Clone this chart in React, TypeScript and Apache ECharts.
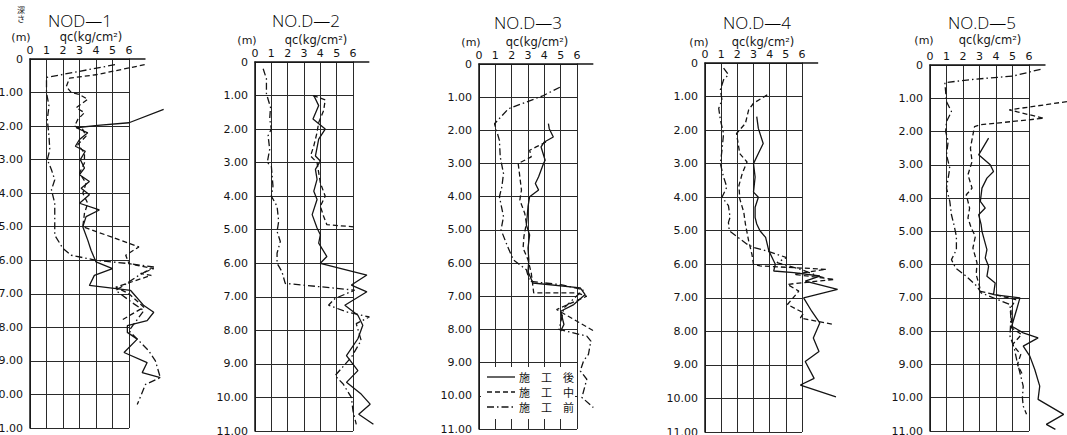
import React, { useEffect, useRef } from "react";
import * as echarts from "echarts";

// ---------- data ----------
const titles = ["NOD—1", "NO.D—2", "NO.D—3", "NO.D—4", "NO.D—5"];
const seriesNames = ["施　工　後", "施　工　中", "施　工　前"]; // after / during / before
const depthUnit = "(m)";
const qcUnit = "qc(kg/cm²)";
const depthHeading = "深\nさ";

// [qc (kg/cm2), depth (m)]
const p1After = [[8.1,1.5],[6.0,1.9],[4.1,1.98],[2.8,2.05],[3.5,2.2],[3.0,2.4],[2.75,2.6],[3.35,2.75],[3.05,3.0],[3.3,3.25],[3.0,3.45],[3.6,3.65],[3.1,3.85],[3.6,4.05],[3.0,4.3],[4.2,4.5],[3.4,4.7],[3.2,5.0],[3.5,5.4],[3.7,5.7],[4.0,6.05],[5.0,6.25],[3.9,6.45],[3.6,6.75],[6.1,6.9],[6.9,7.35],[7.5,7.55],[7.1,7.8],[5.9,7.95],[5.9,8.15],[6.5,8.35],[5.7,8.75],[7.1,9.05],[6.8,9.35],[7.9,9.5]];
const p1During = [[6.95,0.17],[4.0,0.47],[2.4,0.57],[2.2,0.82],[2.5,1.0],[3.0,1.06],[3.5,1.2],[2.8,1.45],[3.3,1.6],[2.9,1.8],[2.7,2.0],[3.2,2.1],[3.4,2.3],[2.9,2.55],[3.3,2.8],[3.3,3.1],[3.0,3.4],[3.4,3.7],[3.2,4.0],[3.5,4.3],[3.3,4.6],[3.2,5.0],[6.6,5.6],[5.8,5.85],[6.0,6.1],[7.5,6.25],[6.7,6.4],[7.35,6.45],[5.2,6.8],[6.0,7.0],[6.9,7.4],[5.5,7.8]];
const p1Before = [[5.15,0.17],[1.0,0.55],[1.0,1.0],[1.15,1.4],[1.05,1.8],[1.15,2.3],[1.2,2.7],[1.05,3.0],[1.3,3.3],[1.5,3.6],[1.3,3.9],[1.5,4.3],[1.5,5.25],[2.0,5.65],[2.5,5.85],[4.0,6.0],[6.0,6.1],[7.5,6.2],[6.6,6.45],[5.2,6.9],[6.3,7.3],[6.9,7.5],[6.0,8.1],[6.6,8.4],[7.2,8.7],[7.6,9.0],[7.9,9.5],[7.0,9.7],[6.5,10.3]];

const p2After = [[3.6,1.0],[3.9,1.3],[3.55,1.7],[4.3,2.0],[3.9,2.3],[3.7,2.8],[4.0,2.95],[3.7,3.2],[3.8,3.5],[3.6,3.85],[3.8,4.1],[3.5,4.55],[3.8,4.95],[4.0,5.15],[3.9,5.4],[4.4,5.8],[4.0,6.0],[6.85,6.35],[5.9,6.65],[6.85,6.85],[5.5,7.25],[6.3,7.55],[6.6,7.85],[6.3,8.25],[5.6,8.75],[6.3,9.2],[5.6,9.55],[6.5,9.9],[7.05,10.2],[6.35,10.5],[7.25,10.8]];
const p2During = [[3.55,1.0],[4.3,1.13],[4.2,1.45],[3.9,1.8],[3.8,2.1],[3.6,2.5],[3.4,2.8],[3.8,3.0],[3.9,3.3],[4.0,3.6],[4.3,4.0],[4.0,4.3],[4.2,4.6],[4.4,4.85],[6.2,4.92]];
const p2Before = [[0.5,0.2],[0.7,0.5],[0.7,0.95],[0.95,1.35],[0.9,1.7],[1.0,2.0],[0.8,2.2],[0.9,2.6],[0.75,3.0],[1.0,3.1],[1.1,3.7],[1.0,4.0],[1.35,4.3],[1.45,4.75],[1.35,5.05],[1.55,5.35],[1.35,5.7],[1.35,6.0],[1.65,6.25],[1.85,6.6],[4.0,6.7],[6.1,6.8],[4.9,7.05],[4.5,7.25],[5.6,7.45],[7.0,7.6],[6.2,7.8],[6.5,8.3],[5.9,8.8],[4.9,9.35],[5.4,9.6],[5.9,10.0],[6.0,10.4],[6.2,10.8]];

const p3After = [[4.25,1.8],[4.3,1.95],[4.55,2.2],[4.0,2.35],[3.8,2.5],[4.05,2.9],[3.95,3.0],[3.65,3.4],[3.45,3.6],[3.65,3.8],[3.1,4.0],[3.0,4.3],[2.95,4.6],[2.9,4.85],[3.1,5.15],[3.0,5.55],[3.05,5.9],[3.0,6.25],[3.3,6.6],[6.2,6.75],[6.5,6.95],[5.8,7.25],[5.0,7.45],[5.2,7.85],[5.0,8.05]];
const p3During = [[4.1,2.35],[3.5,2.5],[3.1,2.6],[3.2,2.8],[2.4,3.0],[2.5,3.4],[2.6,3.8],[2.5,4.1],[2.8,4.5],[2.9,4.8],[2.75,5.2],[2.7,5.55],[3.0,5.9],[3.2,6.3],[3.35,6.9],[6.0,6.9],[6.6,7.0],[5.2,7.3],[4.75,7.4],[7.05,8.05]];
const p3Before = [[4.95,0.7],[3.95,0.95],[1.8,1.35],[0.95,1.8],[1.25,2.3],[1.3,2.8],[1.5,3.3],[1.4,3.7],[1.25,4.0],[1.5,4.6],[1.35,5.0],[1.75,5.5],[2.1,5.9],[2.9,6.2],[3.1,6.55],[5.0,6.65],[6.4,6.8],[5.2,7.35],[4.9,8.0],[6.6,8.2],[6.85,8.35],[6.7,8.75],[6.4,8.95],[6.2,9.25],[6.6,9.5],[6.3,10.05],[7.0,10.35]];

const p4After = [[3.2,1.6],[3.3,1.95],[3.6,2.4],[3.3,2.7],[3.0,3.0],[3.1,3.4],[3.0,3.85],[3.3,4.0],[3.1,4.3],[3.1,4.6],[3.2,4.8],[3.4,5.0],[3.75,5.2],[3.95,5.6],[4.35,6.0],[4.25,6.2],[5.5,6.25],[7.1,6.35],[6.2,6.5],[8.2,6.75],[6.1,7.0],[6.6,7.4],[7.1,7.75],[6.7,8.2],[7.05,8.6],[6.2,8.9],[6.75,9.4],[5.9,9.6],[8.1,9.95]];
const p4During = [[3.85,0.95],[3.0,1.2],[2.7,1.4],[2.5,1.8],[1.95,2.1],[2.05,2.4],[2.15,2.7],[2.6,2.95],[2.3,3.3],[2.1,3.65],[2.15,4.05],[2.4,4.45],[2.5,4.8],[2.7,5.3],[2.9,5.7],[3.0,6.0],[3.4,6.05],[7.5,6.15],[5.5,6.3],[8.0,6.45],[5.1,6.6],[5.8,6.8],[5.1,7.2],[6.1,7.45],[5.9,7.6],[8.0,7.8]];
const p4Before = [[1.15,0.15],[1.45,0.35],[1.15,0.5],[0.95,0.8],[1.05,1.1],[0.85,1.35],[0.95,1.7],[1.15,2.1],[1.05,2.6],[0.95,3.0],[1.15,3.4],[1.35,3.7],[1.05,4.0],[1.45,4.25],[1.55,4.6],[1.45,4.75],[1.5,5.0],[2.05,5.2],[2.6,5.4],[3.0,5.5],[3.8,5.6],[5.05,5.8],[4.45,5.95],[5.9,6.15],[7.0,6.35],[7.35,6.4]];

const p5After = [[3.55,2.2],[2.95,2.7],[3.65,3.0],[3.85,3.2],[3.45,3.4],[3.15,3.7],[3.05,4.1],[3.35,4.3],[2.95,4.5],[3.1,4.8],[3.15,5.0],[3.45,5.55],[3.35,5.8],[3.55,6.05],[3.45,6.35],[3.95,6.55],[3.85,6.9],[5.45,7.0],[5.25,7.35],[4.95,7.85],[5.65,8.05],[6.55,8.2],[5.65,8.45],[6.05,8.75],[6.35,9.15],[6.65,9.65],[6.55,10.05],[8.1,10.5],[7.05,10.8],[7.6,10.95]];
const p5During = [[8.3,1.1],[4.8,1.35],[6.9,1.6],[3.0,1.8],[2.7,1.85],[2.6,2.1],[2.45,2.5],[2.55,2.9],[2.3,3.3],[2.55,3.7],[2.2,3.9],[2.4,4.3],[2.3,4.6],[2.5,4.9],[2.75,5.15],[2.6,5.5],[2.85,5.95],[2.8,6.3],[3.0,6.65],[3.05,6.8],[5.2,7.05],[4.9,7.3],[4.95,7.9],[5.55,8.1],[5.0,8.4],[5.5,8.7],[5.3,9.0],[5.6,9.3]];
const p5Before = [[6.7,0.13],[5.05,0.33],[2.65,0.43],[0.9,0.53],[1.0,1.1],[1.3,1.4],[1.0,1.7],[0.95,2.0],[1.1,2.3],[1.0,2.7],[1.2,3.1],[1.1,3.4],[1.0,3.7],[1.2,4.1],[1.3,4.5],[1.45,4.8],[1.6,5.15],[1.6,5.55],[1.3,5.85],[1.55,6.1],[2.2,6.35],[2.85,6.65],[3.1,6.85],[4.85,7.2],[4.9,7.6],[4.85,8.15],[5.1,8.5],[5.25,8.85],[5.45,9.25],[5.65,9.65],[5.6,10.0],[5.65,10.25],[5.85,10.5]];

const qcMin = 0;
const qcMax = 6;      // gridded range
const qcPlotMax = 9;  // curves run past the grid up to here
const qcAxisEnd = 7;  // top axis line runs a little past the grid
const depthMin = 0;
const depthMax = 11;

const panelData = [
  [p1After, p1During, p1Before],
  [p2After, p2During, p2Before],
  [p3After, p3During, p3Before],
  [p4After, p4During, p4Before],
  [p5After, p5During, p5Before],
];

// ---------- layout ----------
const boxes = [
  { left: 30, top: 59, width: 99, height: 369, titleX: 80, titleY: 20, unitX: 21, qcX: 91, labelY: 37 },
  { left: 255, top: 62, width: 98, height: 369, titleX: 306, titleY: 20, unitX: 247, qcX: 316, labelY: 40 },
  { left: 479, top: 64, width: 98, height: 365, titleX: 528, titleY: 22, unitX: 471, qcX: 537, labelY: 42 },
  { left: 705, top: 63, width: 97, height: 369, titleX: 757, titleY: 22, unitX: 699, qcX: 763, labelY: 42 },
  { left: 930, top: 65, width: 99, height: 366, titleX: 982, titleY: 22, unitX: 924, qcX: 990, labelY: 40 },
];
const legendBox = { x: 481, y: 367, w: 94, h: 52, lineX0: 487, lineX1: 515, textX: 519, rows: [377, 392, 407] };

const INK = "#141414";
const GRIDINK = "#2a2a2a";
const lineTypes: any[] = ["solid", [5, 3], [7, 3, 1.5, 3]];
const FONT = "DejaVu Sans";

export default function App() {
  const ref = useRef<HTMLDivElement>(null);
  useEffect(() => {
    if (!ref.current) return;
    const chart = echarts.init(ref.current, null, { renderer: "svg" });
    const n = boxes.length;

    // frame grids (0..6, with the grid lines) and data grids (0..9, hidden axes)
    const grid: any[] = [];
    boxes.forEach((b) => grid.push({ left: b.left, top: b.top, width: b.width, height: b.height, containLabel: false, outerBoundsMode: "none" }));
    boxes.forEach((b) => grid.push({ left: b.left, top: b.top, width: (b.width * qcPlotMax) / qcMax, height: b.height, containLabel: false, outerBoundsMode: "none" }));

    const xAxis: any[] = [];
    const yAxis: any[] = [];
    boxes.forEach((_, i) => {
      xAxis.push({
        gridIndex: i, type: "value", position: "top",
        min: qcMin, max: qcMax, interval: 1,
        axisLine: { show: true, onZero: false, lineStyle: { color: INK, width: 1.5 } },
        axisTick: { show: false },
        axisLabel: { fontSize: 11, color: INK, margin: 3, fontFamily: FONT },
        splitLine: { show: true, lineStyle: { color: GRIDINK, width: 1 } },
      });
      yAxis.push({
        gridIndex: i, type: "value", inverse: true,
        min: depthMin, max: depthMax, interval: 1,
        axisLine: { show: true, onZero: false, lineStyle: { color: INK, width: 1.5 } },
        axisTick: { show: false },
        axisLabel: {
          fontSize: 11, color: INK, margin: 7, fontFamily: FONT,
          formatter: (v: number) => (v === 0 ? "0" : v.toFixed(2)),
        },
        splitLine: { show: true, lineStyle: { color: GRIDINK, width: 1 } },
      });
    });
    boxes.forEach((_, i) => {
      xAxis.push({ gridIndex: n + i, type: "value", position: "top", min: qcMin, max: qcPlotMax, show: false });
      yAxis.push({ gridIndex: n + i, type: "value", inverse: true, min: depthMin, max: depthMax, show: false });
    });

    const series: any[] = [];
    panelData.forEach((sets, i) => {
      sets.forEach((d, k) => {
        series.push({
          type: "line", name: seriesNames[k], xAxisIndex: n + i, yAxisIndex: n + i,
          data: d, symbol: "none", z: 3,
          itemStyle: { color: INK },
          lineStyle: { color: INK, width: 1.3, type: lineTypes[k] },
        });
      });
      series.push({
        type: "line", xAxisIndex: n + i, yAxisIndex: n + i, silent: true, clip: false,
        data: [[qcMax, depthMin], [qcAxisEnd, depthMin]], symbol: "none",
        lineStyle: { color: INK, width: 1.5 },
      });
    });

    const graphic: any[] = [];
    boxes.forEach((b, i) => {
      graphic.push({
        type: "text", x: b.titleX, y: b.titleY, z: 100,
        style: { text: titles[i], fontFamily: "Open Sans", fontSize: 17, fontWeight: 300, fill: "#000", align: "center", verticalAlign: "middle" },
      });
      graphic.push({
        type: "text", x: b.unitX, y: b.labelY, z: 100,
        style: { text: depthUnit, fontFamily: FONT, fontSize: 11, fill: INK, align: "center", verticalAlign: "middle" },
      });
      graphic.push({
        type: "text", x: b.qcX, y: b.labelY, z: 100,
        style: { text: qcUnit, fontFamily: FONT, fontSize: 11.5, fill: INK, align: "center", verticalAlign: "middle" },
      });
    });
    graphic.push({
      type: "text", x: 21, y: 14, z: 100,
      style: { text: depthHeading, fontFamily: "Noto Sans CJK JP", fontSize: 8, lineHeight: 9, fill: INK, align: "center", verticalAlign: "middle" },
    });
    // legend (inside panel 3)
    graphic.push({
      type: "rect", z: 100,
      shape: { x: legendBox.x, y: legendBox.y, width: legendBox.w, height: legendBox.h },
      style: { fill: "#fff" },
    });
    seriesNames.forEach((name, k) => {
      const y = legendBox.rows[k];
      graphic.push({
        type: "line", z: 101,
        shape: { x1: legendBox.lineX0, y1: y, x2: legendBox.lineX1, y2: y },
        style: { stroke: INK, lineWidth: 1.3, lineDash: k === 0 ? null : lineTypes[k] },
      });
      graphic.push({
        type: "text", x: legendBox.textX, y, z: 101,
        style: { text: name, fontFamily: "Noto Sans CJK JP", fontSize: 11, lineHeight: 13, fill: INK, align: "left", verticalAlign: "middle" },
      });
    });

    chart.setOption({
      animation: false,
      backgroundColor: "#fff",
      grid, xAxis, yAxis, series, graphic,
    });
    return () => chart.dispose();
  }, []);
  return (
    <div ref={ref} style={{ position: "fixed", left: 0, top: 0, width: 1067, height: 435 }} />
  );
}
